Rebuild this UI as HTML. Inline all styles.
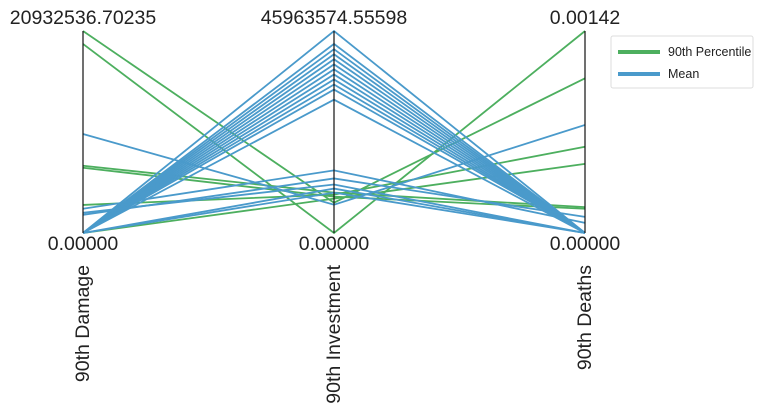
<!DOCTYPE html>
<html><head><meta charset="utf-8"><style>
body{margin:0;background:#fff;}
svg text{font-family:"Liberation Sans","DejaVu Sans",sans-serif;fill:#222;}
</style></head><body>
<svg id="chart" width="763" height="413" viewBox="0 0 763 413" xmlns="http://www.w3.org/2000/svg">
<g id="lines"></g>
<g id="axes"></g>
<g>
<rect x="611" y="36" width="142" height="52" fill="#fff" stroke="#ddd" rx="2"/>
<line x1="618" y1="52" x2="660" y2="52" stroke="#4daf5f" stroke-width="4"/>
<text x="668" y="56" font-size="12.5">90th Percentile</text>
<line x1="618" y1="74" x2="660" y2="74" stroke="#4a9acb" stroke-width="4"/>
<text x="668" y="78" font-size="12.5">Mean</text>
</g>
</svg>
<script>
// normalized values (fraction of axis max) per axis
const axisNames = ["90th Damage","90th Investment","90th Deaths"];
const axisMaxLabels = ["20932536.70235","45963574.55598","0.00142"];
const axisMinLabels = ["0.00000","0.00000","0.00000"];
const greenDamage = [1.0, 0.936, 0.333, 0.323, 0.139, 0.0];
const greenInvest = [0.15, 0.0, 0.20, 0.18, 0.19, 0.17];
const greenDeaths = [0.766, 1.0, 0.128, 0.12, 0.427, 0.342];
const blueDamage = [0,0,0,0,0,0,0,0,0,0,0,0, 0.49, 0.12, 0.09, 0.10, 0, 0];
const blueInvest = [1.0,0.936,0.91,0.885,0.86,0.835,0.81,0.785,0.76,0.735,0.71,0.66, 0.14, 0.31, 0.27, 0.24, 0.22, 0.20];
const blueDeaths = [0,0,0,0,0,0,0,0,0,0,0,0, 0.535, 0.05, 0.08, 0, 0, 0];

const NS="http://www.w3.org/2000/svg";
const axX=[83,334,585], yTop=31, yBot=233;
const y=v=>yBot-(yBot-yTop)*v;
const lines=document.getElementById('lines'), axes=document.getElementById('axes');
function drawSeries(a,b,c,color,name){
  for(let i=0;i<a.length;i++){
    const p=document.createElementNS(NS,'polyline');
    p.setAttribute('points',`${axX[0]},${y(a[i])} ${axX[1]},${y(b[i])} ${axX[2]},${y(c[i])}`);
    p.setAttribute('fill','none');p.setAttribute('stroke',color);p.setAttribute('stroke-width','1.8');
    
    
    lines.appendChild(p);
  }
}
drawSeries(greenDamage,greenInvest,greenDeaths,'#4daf5f','90th-percentile');
drawSeries(blueDamage,blueInvest,blueDeaths,'#4a9acb','mean');
axisNames.forEach((n,i)=>{
  const l=document.createElementNS(NS,'line');
  l.setAttribute('x1',axX[i]);l.setAttribute('x2',axX[i]);l.setAttribute('y1',yTop);l.setAttribute('y2',yBot);
  l.setAttribute('stroke','#111');l.setAttribute('stroke-width','1.2');
  
  
  axes.appendChild(l);
  const t1=document.createElementNS(NS,'text');
  t1.setAttribute('x',axX[i]);t1.setAttribute('y',24);t1.setAttribute('text-anchor','middle');t1.setAttribute('font-size','19.5');
  t1.textContent=axisMaxLabels[i];
  
  
  axes.appendChild(t1);
  const t2=document.createElementNS(NS,'text');
  t2.setAttribute('x',axX[i]);t2.setAttribute('y',250);t2.setAttribute('text-anchor','middle');t2.setAttribute('font-size','19.5');
  t2.textContent=axisMinLabels[i];
  
  
  axes.appendChild(t2);
  const t3=document.createElementNS(NS,'text');
  t3.setAttribute('transform',`translate(${axX[i]+6},265) rotate(-90)`);t3.setAttribute('text-anchor','end');t3.setAttribute('font-size','19.5');
  t3.textContent=n;
  
  
  axes.appendChild(t3);
});
</script>
</body></html>
